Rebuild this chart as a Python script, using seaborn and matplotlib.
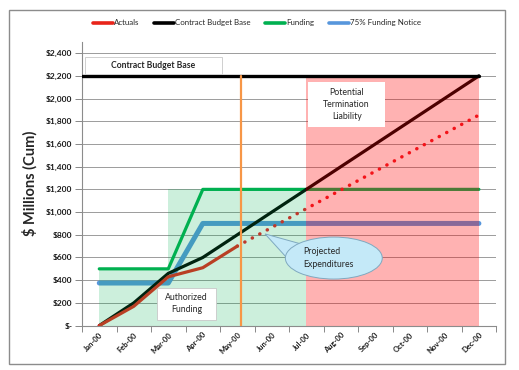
"""
Funding vs. contract budget base chart (cumulative $M by month).
"""

import numpy as np
import pandas as pd
import matplotlib.pyplot as plt
import matplotlib.patches as mpatches
import seaborn as sns


# ── Data ────────────────────────────────────────────────────────
months = ["Jan-00", "Feb-00", "Mar-00", "Apr-00", "May-00", "Jun-00",
          "Jul-00", "Aug-00", "Sep-00", "Oct-00", "Nov-00", "Dec-00"]
actuals = [0, 170, 430, 510, 700]                                  # Jan..May
projected = [700, 865, 1030, 1195, 1360, 1525, 1690, 1855]         # May..Dec
contract_budget = [0, 200, 460, 600, 800, 1000, 1200, 1400, 1600, 1800, 2000, 2200]
funding = [500, 500, 500, 1200, 1200, 1200, 1200, 1200, 1200, 1200, 1200, 1200]
notice_75 = [375, 375, 375, 900, 900, 900, 900, 900, 900, 900, 900, 900]
authorized = [500, 500, 1200, 1200, 1200, 1200, 1200]              # Jan..Jul (step)
cbb_level = 2200
liability_months = ["Jul-00", "Dec-00"]
status_month = 4.1          # "today" marker, just after May-00
y_ticks = list(range(0, 2401, 200))

RED = "#e8241a"
BLACK = "#000000"
GREEN = "#00b050"
BLUE = "#5796dc"
ORANGE = "#f79646"

sns.set_theme(style="white")
plt.rcParams["font.family"] = ["Lato", "DejaVu Sans"]

x = np.arange(len(months))
df = pd.DataFrame({
    "x": x,
    "actuals": actuals + [np.nan] * (len(months) - len(actuals)),
    "projected": [np.nan] * (len(months) - len(projected)) + projected,
    "cbb": contract_budget,
    "funding": funding,
    "notice": notice_75,
})

fig = plt.figure(figsize=(5.19, 3.70), dpi=100)
ax = fig.add_axes([0.158, 0.120, 0.798, 0.767])

# Series lines
sns.lineplot(data=df, x="x", y="actuals", color=RED, lw=2.3, label="Actuals",
             ax=ax, zorder=2.4)
sns.lineplot(data=df, x="x", y="cbb", color=BLACK, lw=2.3,
             label="Contract Budget Base", ax=ax, zorder=2.2)
sns.lineplot(data=df, x="x", y="funding", color=GREEN, lw=2.3, label="Funding",
             ax=ax, zorder=2.1)
sns.lineplot(data=df, x="x", y="notice", color=BLUE, lw=3.6,
             label="75% Funding Notice", ax=ax, zorder=2.0,
             solid_capstyle="round")
ax.plot(df["x"], df["projected"], color="#ee1c24", lw=2.5,
        linestyle=(0, (0.05, 2.4)), dash_capstyle="round", zorder=2.3)

# Shaded regions (drawn over the lines, semi-transparent)
auth_x = x[:len(authorized)]
ax.fill_between(auth_x, 0, authorized, step="post", color=GREEN,
                alpha=0.2, lw=0, zorder=3)
lx = [months.index(m) for m in liability_months]
ax.fill_between(lx, 0, cbb_level, color="#ff0000", alpha=0.3, lw=0, zorder=3)

# Contract budget base ceiling and status date
ax.plot([-0.5, 11], [cbb_level, cbb_level], color=BLACK, lw=2.4, zorder=4)
ax.plot([status_month, status_month], [0, cbb_level], color=ORANGE, lw=1.6,
        zorder=4)

# Axes formatting
ax.set_xlim(-0.5, 11.5)
ax.set_ylim(0, 2500)
ax.set_yticks(y_ticks)
ax.set_yticklabels(["$-" if v == 0 else f"${v:,.0f}" for v in y_ticks],
                   fontsize=6, fontweight="bold", color="#1a1a1a")
ax.set_xticks(x)
ax.set_xticklabels(months, rotation=45, ha="right", rotation_mode="anchor",
                   fontsize=5.5, fontweight="bold", color="#1a1a1a")
ax.set_xticks(np.arange(-0.5, 12, 1), minor=True)
ax.tick_params(axis="x", which="major", length=0, pad=4)
ax.tick_params(axis="x", which="minor", length=4, width=0.7, color="#888888",
               direction="out", bottom=True)
ax.tick_params(axis="y", length=5, width=0.7, color="#888888",
               direction="out", left=True, pad=2)
ax.grid(True, axis="y", color="#8c8c8c", lw=0.6, zorder=0.5)
ax.set_axisbelow(True)
for side in ["top", "right"]:
    ax.spines[side].set_visible(False)
for side in ["left", "bottom"]:
    ax.spines[side].set_color("#8c8c8c")
    ax.spines[side].set_linewidth(0.8)
ax.set_xlabel("")
ax.set_ylabel("$ Millions (Cum)", fontsize=10.5, fontweight="bold", labelpad=6)

# Legend across the top
handles, labels = ax.get_legend_handles_labels()
ax.get_legend().remove()
leg = fig.legend(handles, labels, loc="center", bbox_to_anchor=(0.495, 0.938),
                 ncol=4, frameon=False, fontsize=5.7, handlelength=2.6,
                 handletextpad=0.1, columnspacing=1.8)
for h in leg.get_lines():
    h.set_linewidth(2.6)

# Annotation boxes (axes fraction)
ax.add_patch(mpatches.Rectangle((0.007, 0.887), 0.331, 0.060,
                                transform=ax.transAxes, facecolor="white",
                                edgecolor="#c8c8c8", lw=0.6, zorder=5))
ax.text(0.172, 0.917, "Contract Budget Base", transform=ax.transAxes,
        ha="center", va="center", fontsize=6.2, fontweight="bold", zorder=6)

ax.add_patch(mpatches.Rectangle((0.546, 0.700), 0.186, 0.159,
                                transform=ax.transAxes, facecolor="white",
                                edgecolor="none", zorder=5))
ax.text(0.639, 0.780, "Potential\nTermination\nLiability",
        transform=ax.transAxes, ha="center", va="center", fontsize=6.3,
        linespacing=1.45, zorder=6)

ax.add_patch(mpatches.Rectangle((0.181, 0.020), 0.143, 0.113,
                                transform=ax.transAxes, facecolor="white",
                                edgecolor="#c8c8c8", lw=0.6, zorder=5))
ax.text(0.2525, 0.0765, "Authorized\nFunding", transform=ax.transAxes,
        ha="center", va="center", fontsize=6.3, linespacing=1.45, zorder=6)

# "Projected Expenditures" speech-bubble callout
ax.add_patch(mpatches.Polygon([(0.442, 0.323), (0.528, 0.288), (0.495, 0.238)],
                              closed=True, transform=ax.transAxes,
                              facecolor="#c4e9f8", edgecolor="#7fa9c0",
                              lw=0.7, zorder=5))
ax.add_patch(mpatches.Ellipse((0.608, 0.238), 0.234, 0.148,
                              transform=ax.transAxes, facecolor="#c4e9f8",
                              edgecolor="#7fa9c0", lw=0.7, zorder=5.1))
ax.text(0.535, 0.238, "Projected\nExpenditures", transform=ax.transAxes,
        ha="left", va="center", fontsize=6.3, linespacing=1.45, zorder=6)

# Chart frame
fig.patches.append(mpatches.Rectangle((0.017, 0.016), 0.956, 0.957,
                                      transform=fig.transFigure, fill=False,
                                      edgecolor="#8c8c8c", lw=1.0))

fig.savefig("out.png", dpi=100)
